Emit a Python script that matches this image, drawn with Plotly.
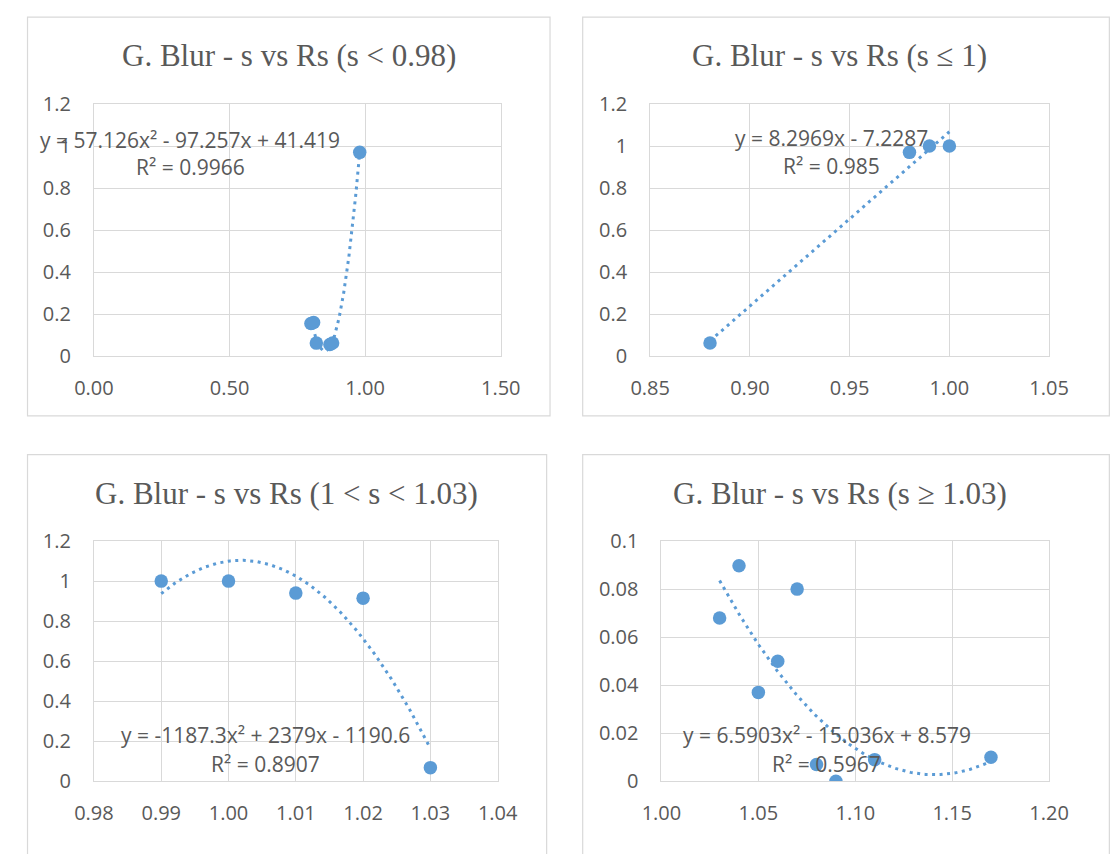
import numpy as np
import plotly.graph_objects as go

W, H = 1112, 854

# ---------------- data ----------------
titles = ["G. Blur - s vs Rs (s < 0.98)", "G. Blur - s vs Rs (s ≤ 1)",
          "G. Blur - s vs Rs (1 < s < 1.03)", "G. Blur - s vs Rs (s ≥ 1.03)"]

s1 = [0.80, 0.81, 0.82, 0.87, 0.88, 0.98]
r1 = [0.155, 0.16, 0.062, 0.055, 0.063, 0.97]
coef1 = [57.126, -97.257, 41.419]
eq1 = ["y = 57.126x² - 97.257x + 41.419", "R² = 0.9966"]

s2 = [0.88, 0.98, 0.99, 1.00]
r2 = [0.063, 0.97, 1.0, 1.0]
coef2 = [8.2969, -7.2287]
eq2 = ["y = 8.2969x - 7.2287", "R² = 0.985"]

s3 = [0.99, 1.00, 1.01, 1.02, 1.03]
r3 = [1.0, 1.0, 0.94, 0.915, 0.068]
coef3 = [-1187.3, 2379.0, -1190.6]
eq3 = ["y = -1187.3x² + 2379x - 1190.6", "R² = 0.8907"]

s4 = [1.03, 1.04, 1.05, 1.06, 1.07, 1.08, 1.09, 1.11, 1.17]
r4 = [0.068, 0.0897, 0.037, 0.050, 0.080, 0.007, 0.0, 0.009, 0.010]
coef4 = [6.5903, -15.036, 8.579]
eq4 = ["y = 6.5903x² - 15.036x + 8.579", "R² = 0.5967"]

x_ticks1 = [0.0, 0.5, 1.0, 1.5]
x_labels1 = ["0.00", "0.50", "1.00", "1.50"]
x_ticks2 = [0.85, 0.90, 0.95, 1.00, 1.05]
x_labels2 = ["0.85", "0.90", "0.95", "1.00", "1.05"]
x_ticks3 = [0.98, 0.99, 1.00, 1.01, 1.02, 1.03, 1.04]
x_labels3 = ["0.98", "0.99", "1.00", "1.01", "1.02", "1.03", "1.04"]
x_ticks4 = [1.00, 1.05, 1.10, 1.15, 1.20]
x_labels4 = ["1.00", "1.05", "1.10", "1.15", "1.20"]
y_ticks_a = [0, 0.2, 0.4, 0.6, 0.8, 1.0, 1.2]
y_labels_a = ["0", "0.2", "0.4", "0.6", "0.8", "1", "1.2"]
y_ticks_b = [0, 0.02, 0.04, 0.06, 0.08, 0.1]
y_labels_b = ["0", "0.02", "0.04", "0.06", "0.08", "0.1"]

# ---------------- layout geometry (pixels) ----------------
panels = [
    dict(s=s1, r=r1, coef=coef1, eq=eq1, xt=x_ticks1, xl=x_labels1, yt=y_ticks_a, yl=y_labels_a,
         plot=(76.7, 498.7, 93.0, 353.3), box=(7.8, 549.8, 3.3, 415.0),
         title=(278.8, 43.3), eqpos=[(176.5, 130.0), (176.5, 158.0)]),
    dict(s=s2, r=r2, coef=coef2, eq=eq2, xt=x_ticks2, xl=x_labels2, yt=y_ticks_a, yl=y_labels_a,
         plot=(653.7, 1067.5, 93.0, 353.3), box=(583.7, 1130.0, 3.3, 415.0),
         title=(850.5, 43.3), eqpos=[(842.0, 128.0), (842.0, 157.0)]),
    dict(s=s3, r=r3, coef=coef3, eq=eq3, xt=x_ticks3, xl=x_labels3, yt=y_ticks_a, yl=y_labels_a,
         plot=(76.7, 495.5, 544.3, 792.3), box=(7.8, 546.3, 455.0, 870.0),
         title=(276.5, 495.0), eqpos=[(254.9, 745.0), (254.9, 774.0)]),
    dict(s=s4, r=r4, coef=coef4, eq=eq4, xt=x_ticks4, xl=x_labels4, yt=y_ticks_b, yl=y_labels_b,
         plot=(665.4, 1067.5, 544.3, 792.3), box=(583.7, 1130.0, 455.0, 870.0),
         title=(850.8, 495.0), eqpos=[(836.8, 745.0), (836.8, 774.0)]),
]

BLUE = "#5B9BD5"
GRAY_TXT = "#595959"
GRID = "#D9D9D9"
TICKFONT = dict(family="Open Sans", size=20, color=GRAY_TXT)

def px(x):
    return x / W

def py(y):
    return 1 - y / H

fig = go.Figure()
layout = {}
annotations = []
shapes = []

for i, p in enumerate(panels):
    n = "" if i == 0 else str(i + 1)
    xa, ya = "x" + n, "y" + n
    x0, x1, y0, y1 = p["plot"]
    xr = [p["xt"][0], p["xt"][-1]]
    yr = [p["yt"][0], p["yt"][-1]]
    layout["xaxis" + n] = dict(
        domain=[px(x0), px(x1)], range=xr, anchor=ya,
        tickvals=p["xt"], ticktext=p["xl"], tickfont=TICKFONT,
        showgrid=True, gridcolor=GRID, gridwidth=1,
        showline=True, linecolor=GRID, linewidth=1, mirror=True,
        zeroline=False, ticks="", ticklabelstandoff=14, fixedrange=True)
    layout["yaxis" + n] = dict(
        domain=[py(y1), py(y0)], range=yr, anchor=xa,
        tickvals=p["yt"], ticktext=p["yl"], tickfont=TICKFONT,
        showgrid=True, gridcolor=GRID, gridwidth=1,
        showline=True, linecolor=GRID, linewidth=1, mirror=True,
        zeroline=False, ticks="", ticklabelstandoff=18, fixedrange=True)

    # trendline from the displayed equation coefficients
    xs = np.linspace(min(p["s"]), max(p["s"]), 200)
    ys = np.polyval(p["coef"], xs)
    fig.add_trace(go.Scatter(x=xs, y=ys, mode="lines", xaxis=xa, yaxis=ya,
                             line=dict(color=BLUE, width=3, dash="3px,4.5px"),
                             hoverinfo="skip", showlegend=False))
    fig.add_trace(go.Scatter(x=p["s"], y=p["r"], mode="markers", xaxis=xa, yaxis=ya,
                             marker=dict(color=BLUE, size=13.5, line=dict(width=0)),
                             hoverinfo="skip", showlegend=False))

    bx0, bx1, by0, by1 = p["box"]
    shapes.append(dict(type="rect", xref="paper", yref="paper",
                       x0=px(bx0), x1=px(bx1), y0=py(by1), y1=py(by0),
                       line=dict(color=GRID, width=1.2), fillcolor="rgba(0,0,0,0)"))

    tx, ty = p["title"]
    annotations.append(dict(text=titles[i], xref="paper", yref="paper",
                            x=px(tx), y=py(ty), xanchor="center", yanchor="middle",
                            showarrow=False,
                            font=dict(family="Liberation Serif", size=31, color=GRAY_TXT)))
    for txt, (ex, ey) in zip(p["eq"], p["eqpos"]):
        annotations.append(dict(text=txt, xref="paper", yref="paper",
                                x=px(ex), y=py(ey), xanchor="center", yanchor="middle",
                                showarrow=False,
                                font=dict(family="Open Sans", size=21, color=GRAY_TXT)))

fig.update_layout(**layout)
fig.update_layout(width=W, height=H, autosize=False,
                  margin=dict(l=0, r=0, t=0, b=0),
                  paper_bgcolor="white", plot_bgcolor="white",
                  hovermode=False,
                  showlegend=False, annotations=annotations, shapes=shapes)

fig.write_html("out.html",
               config={"displayModeBar": False, "staticPlot": True},
               post_script="document.body.style.margin='0px';document.body.style.overflow='hidden';")
